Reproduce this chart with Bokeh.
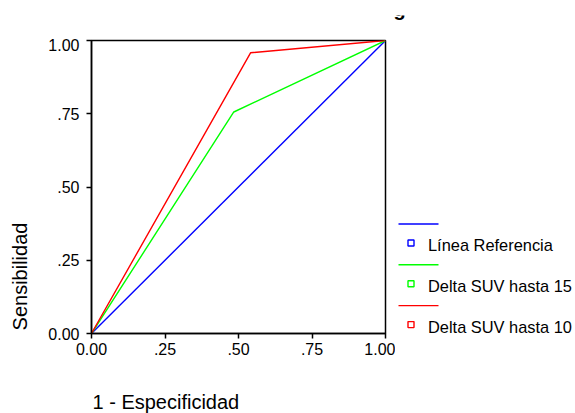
import math
from bokeh.plotting import figure
from bokeh.models import Range1d, FixedTicker, ColumnDataSource
from bokeh.layouts import row, column
from bokeh.embed import file_html
from bokeh.resources import INLINE
from bokeh.core.properties import value

# ---- data ----
ref_x = [0.0, 1.0]
ref_y = [0.0, 1.0]
d15_x = [0.0, 0.484, 1.0]
d15_y = [0.0, 0.756, 1.0]
d10_x = [0.0, 0.541, 1.0]
d10_y = [0.0, 0.958, 1.0]
series_names = ["Línea Referencia", "Delta SUV hasta 15", "Delta SUV hasta 10"]
series_colors = ["#0000ff", "#00ff00", "#ff0000"]
tick_values = [0.0, 0.25, 0.5, 0.75, 1.0]
tick_labels = ["0.00", ".25", ".50", ".75", "1.00"]
x_title = "1 - Especificidad"
y_title = "Sensibilidad"
title_tail = "g"   # the only visible remains of the (cut-off) chart title

FONT = "Liberation Sans"


def strip(w, h, xr, yr):
    f = figure(width=w, height=h, x_range=Range1d(*xr), y_range=Range1d(*yr),
               output_backend="svg", toolbar_location=None,
               x_axis_location=None, y_axis_location=None, min_border=0)
    f.outline_line_color = None
    f.background_fill_color = "white"
    f.border_fill_color = "white"
    f.xgrid.grid_line_color = None
    f.ygrid.grid_line_color = None
    return f


# ---- top strip: clipped remains of the title (coordinates = page pixels) ----
top = strip(567, 23, (8, 575), (38, 15))
top.text(x=[399], y=[8.6], text=[title_tail], text_font=value(FONT), text_font_size="20px",
         text_font_style="bold", text_align="center", text_baseline="middle",
         text_color="black")

# ---- y title panel ----
yfig = figure(width=32, height=352, x_range=Range1d(8, 40), y_range=Range1d(333, 40),
              output_backend="svg", toolbar_location=None,
              x_axis_location=None, y_axis_location=None,
              min_border_left=0, min_border_right=0, min_border_top=2, min_border_bottom=57)
yfig.outline_line_color = None
yfig.background_fill_color = "white"
yfig.border_fill_color = "white"
yfig.xgrid.grid_line_color = None
yfig.ygrid.grid_line_color = None
yfig.text(x=[19.1], y=[276], text=[y_title], angle=math.pi / 2, text_font=value(FONT),
          text_font_size="20px", text_align="center", text_baseline="middle",
          text_color="black")

# ---- main ROC plot ----
p = figure(width=355, height=352, x_range=Range1d(0, 1), y_range=Range1d(0, 1),
           output_backend="svg", toolbar_location=None,
           min_border_left=51, min_border_right=10, min_border_top=2, min_border_bottom=57)
p.background_fill_color = "white"
p.border_fill_color = "white"
p.outline_line_color = "black"
p.outline_line_width = 1.5
p.xgrid.grid_line_color = None
p.ygrid.grid_line_color = None

series = [(ref_x, ref_y), (d15_x, d15_y), (d10_x, d10_y)]
for (xs, ys), c in zip(series, series_colors):
    p.line(xs, ys, line_color=c, line_width=1.4)

for ax in (p.xaxis[0], p.yaxis[0]):
    ax.ticker = FixedTicker(ticks=tick_values)
    ax.major_label_overrides = dict(zip(tick_values, tick_labels))
    ax.minor_tick_line_color = None
    ax.major_tick_in = 0
    ax.major_tick_out = 5
    ax.major_tick_line_width = 1.5
    ax.axis_line_width = 1.5
    ax.axis_line_color = "black"
    ax.major_tick_line_color = "black"
    ax.major_label_text_font = FONT
    ax.major_label_text_font_size = "16px"
    ax.major_label_text_color = "black"
p.xaxis[0].major_label_standoff = 4
p.yaxis[0].major_label_standoff = 7

# ---- legend panel (coordinates = page pixels) ----
lg = figure(width=180, height=352, x_range=Range1d(395, 575), y_range=Range1d(333, 40),
            output_backend="svg", toolbar_location=None,
            x_axis_location=None, y_axis_location=None,
            min_border_left=0, min_border_right=0, min_border_top=2, min_border_bottom=57)
lg.background_fill_color = "white"
lg.border_fill_color = "white"
lg.outline_line_color = None
lg.xgrid.grid_line_color = None
lg.ygrid.grid_line_color = None

n = len(series_names)
step = 40.8
line_y = [223.5 + step * i for i in range(n)]
sq_y = [y + 19.0 for y in line_y]
tx_y = [y + 21.0 for y in line_y]
lsrc = ColumnDataSource(dict(x0=[398] * n, x1=[438] * n, y=line_y, c=series_colors))
lg.segment(x0="x0", y0="y", x1="x1", y1="y", line_color="c", line_width=1.4, source=lsrc)
ssrc = ColumnDataSource(dict(x=[410.5] * n, y=sq_y, c=series_colors))
lg.scatter(x="x", y="y", marker="square", size=6, fill_color=None, line_color="c",
           line_width=1.4, source=ssrc)
tsrc = ColumnDataSource(dict(x=[427.5] * n, y=tx_y, t=series_names))
lg.text(x="x", y="y", text="t", text_font=value(FONT), text_font_size="16.4px",
        text_align="left", text_baseline="middle", text_color="black", source=tsrc)

# ---- bottom strip: x title ----
bot = strip(567, 23, (8, 575), (413, 390))
bot.text(x=[92], y=[401.6], text=[x_title], text_font=value(FONT), text_font_size="20px",
         text_align="left", text_baseline="middle", text_color="black")

layout = column(top, row(yfig, p, lg), bot, margin=(15, 0, 0, 8))

open("out.html", "w").write(file_html(layout, INLINE))
